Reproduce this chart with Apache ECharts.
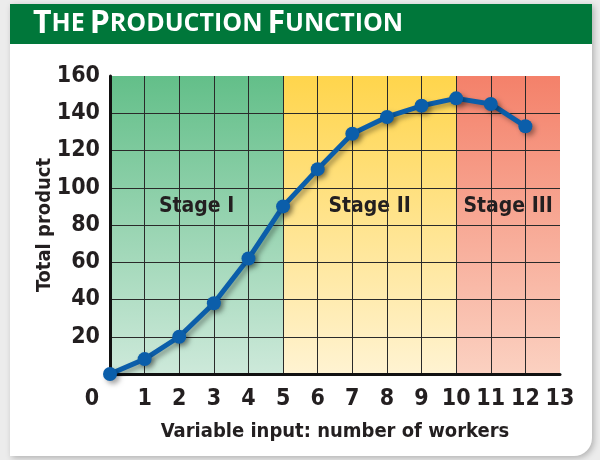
<!DOCTYPE html>
<html>
<head>
<meta charset="utf-8">
<script src="https://cdn.jsdelivr.net/npm/echarts@6/dist/echarts.min.js"></script>
<style>
  html, body { margin: 0; padding: 0; background: #ececec; }
  #chart { width: 600px; height: 460px; }
</style>
</head>
<body>
<div id="chart"></div>
<script>
// workers 0..12 -> total product
const workers = [0, 1, 2, 3, 4, 5, 6, 7, 8, 9, 10, 11, 12];
const totalProduct = [0, 8, 20, 38, 62, 90, 110, 129, 138, 144, 148, 145, 133];
const stages = [
  { name: "Stage I", from: 0, to: 5 },
  { name: "Stage II", from: 5, to: 10 },
  { name: "Stage III", from: 10, to: 13 }
];
const stageColors = [
  ["#63bf89", "#cde9da"],
  ["#ffd54c", "#fff3d2"],
  ["#f4816a", "#fbd1c1"]
];

const condensed = "'DejaVu Sans Condensed', 'Liberation Sans Narrow', sans-serif";
const ink = "#231f20";

const chart = echarts.init(document.getElementById("chart"));

const option = {
  backgroundColor: "#ececec",
  animation: false,
  graphic: [
    {
      type: "rect", z: -10,
      shape: { x: 10, y: 4, width: 582, height: 452, r: [0, 0, 18, 0] },
      style: { fill: "#ffffff", shadowColor: "rgba(0,0,0,0.25)", shadowBlur: 6, shadowOffsetX: 2, shadowOffsetY: 2 }
    },
    {
      type: "rect", z: -9,
      shape: { x: 10, y: 4, width: 582, height: 40 },
      style: { fill: "#00773a" }
    }
  ],
  title: {
    text: "{b|T}{s|HE} {b|P}{s|RODUCTION} {b|F}{s|UNCTION}",
    left: 28,
    top: 3,
    textStyle: {
      rich: {
        b: { fontFamily: "'Open Sans', sans-serif", fontWeight: "bold", fontSize: 32, color: "#fff" },
        s: { fontFamily: "'Open Sans', sans-serif", fontWeight: "bold", fontSize: 25, color: "#fff" }
      }
    }
  },
  grid: { left: 110, right: 40, top: 76, bottom: 86 },
  xAxis: {
    type: "value",
    min: 0,
    max: 13,
    interval: 1,
    z: 3,
    name: "Variable input: number of workers",
    nameLocation: "middle",
    nameGap: 48,
    nameMoveOverlap: false,
    nameTextStyle: { fontFamily: condensed, fontWeight: "bold", fontSize: 20, color: ink },
    axisLine: { show: true, lineStyle: { color: "#111", width: 3 } },
    axisTick: { show: false },
    axisLabel: {
      margin: 14,
      fontFamily: condensed,
      fontWeight: "bold",
      fontSize: 23,
      color: ink,
      formatter: v => (v === 0 ? "{z|0}" : String(v)),
      rich: {
        z: { fontFamily: condensed, fontWeight: "bold", fontSize: 23, color: ink, padding: [0, 36, 0, 0] }
      }
    },
    splitLine: { show: true, showMinLine: false, showMaxLine: false, lineStyle: { color: "#2a2a2a", width: 1 } }
  },
  yAxis: {
    type: "value",
    min: 0,
    max: 160,
    interval: 20,
    z: 3,
    name: "Total product",
    nameLocation: "middle",
    nameRotate: 90,
    nameGap: 55,
    nameMoveOverlap: false,
    nameTextStyle: { fontFamily: condensed, fontWeight: "bold", fontSize: 20, color: ink },
    axisLine: { show: true, lineStyle: { color: "#111", width: 3 } },
    axisTick: { show: false },
    axisLabel: {
      margin: 10,
      fontFamily: condensed,
      fontWeight: "bold",
      fontSize: 23,
      color: ink,
      formatter: v => (v === 0 ? "" : String(v))
    },
    splitLine: { show: true, showMinLine: false, showMaxLine: false, lineStyle: { color: "#2a2a2a", width: 1 } }
  },
  series: [
    {
      // stage backgrounds only
      type: "line",
      z: 1,
      data: [],
      silent: true,
      markArea: {
        silent: true,
        label: {
          position: "inside",
          offset: [0, -18],
          fontFamily: condensed,
          fontWeight: "bold",
          fontSize: 21,
          color: ink
        },
        data: stages.map((s, i) => [
          {
            name: s.name,
            xAxis: s.from,
            yAxis: 0,
            itemStyle: {
              color: new echarts.graphic.LinearGradient(0, 0, 0, 1, [
                { offset: 0, color: stageColors[i][0] },
                { offset: 1, color: stageColors[i][1] }
              ])
            }
          },
          { xAxis: s.to, yAxis: 160 }
        ])
      }
    },
    {
      type: "line",
      z: 5,
      data: workers.map((w, i) => [w, totalProduct[i]]),
      symbol: "circle",
      symbolSize: 14,
      lineStyle: {
        color: "#0b5eaa", width: 5,
        shadowColor: "rgba(0,0,0,0.35)", shadowBlur: 5, shadowOffsetX: 3, shadowOffsetY: 3
      },
      itemStyle: {
        color: "#0b5eaa",
        shadowColor: "rgba(0,0,0,0.35)", shadowBlur: 5, shadowOffsetX: 3, shadowOffsetY: 3
      }
    }
  ]
};

chart.setOption(option);
</script>
</body>
</html>
